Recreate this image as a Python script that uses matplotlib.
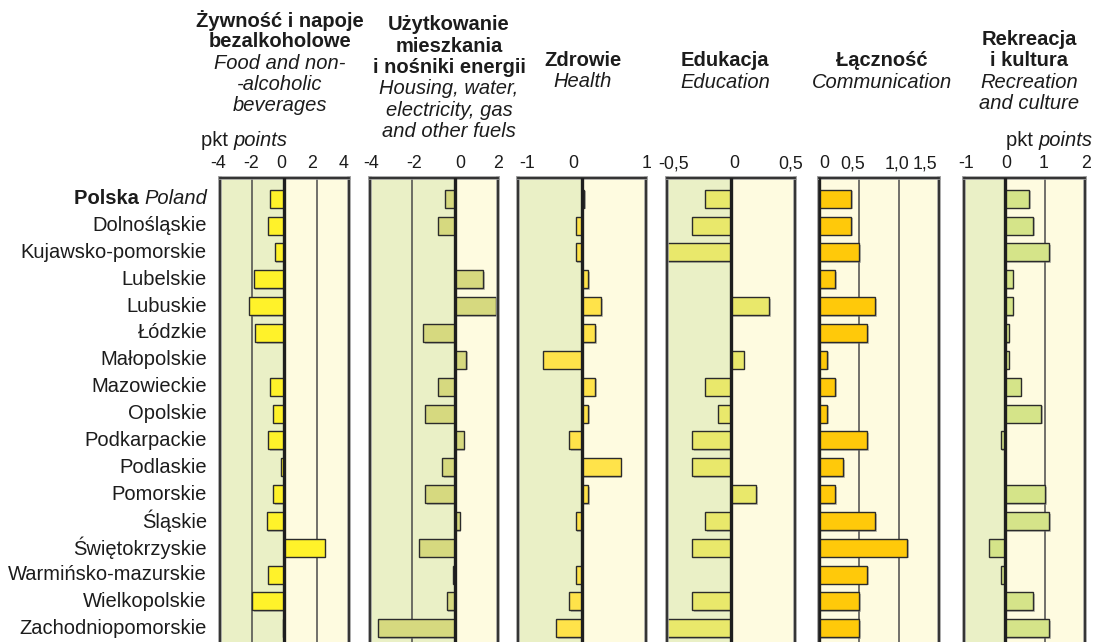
"""
Regional differences in household expenditure structure vs. Poland,
six expenditure groups, points.
"""

import matplotlib
matplotlib.use('Agg')
import matplotlib.pyplot as plt
import matplotlib.patheffects as pe

plt.rcParams['font.family'] = ['Liberation Sans', 'DejaVu Sans']

REGIONS = [
    'Polska', 'Dolnośląskie', 'Kujawsko-pomorskie', 'Lubelskie', 'Lubuskie',
    'Łódzkie', 'Małopolskie', 'Mazowieckie', 'Opolskie', 'Podkarpackie',
    'Podlaskie', 'Pomorskie', 'Śląskie', 'Świętokrzyskie',
    'Warmińsko-mazurskie', 'Wielkopolskie', 'Zachodniopomorskie',
]

food = [-0.9, -1.0, -0.6, -1.9, -2.2, -1.8, 0.0, -0.9, -0.7, -1.0,
        -0.2, -0.7, -1.1, 2.5, -1.0, -2.0, -0.1]
housing = [-0.5, -0.8, 0.0, 1.3, 1.9, -1.5, 0.5, -0.8, -1.4, 0.4,
           -0.6, -1.4, 0.2, -1.7, -0.1, -0.4, -3.6]
health = [0.03, -0.1, -0.1, 0.1, 0.3, 0.2, -0.6, 0.2, 0.1, -0.2,
          0.6, 0.1, -0.1, 0.0, -0.1, -0.2, -0.4]
education = [-0.2, -0.3, -0.5, 0.0, 0.3, 0.0, 0.1, -0.2, -0.1, -0.3,
             -0.3, 0.2, -0.2, -0.3, 0.0, -0.3, -0.5]
communication = [0.4, 0.4, 0.5, 0.2, 0.7, 0.6, 0.1, 0.2, 0.1, 0.6,
                 0.3, 0.2, 0.7, 1.1, 0.6, 0.5, 0.5]
recreation = [0.6, 0.7, 1.1, 0.2, 0.2, 0.1, 0.1, 0.4, 0.9, -0.1,
              0.0, 1.0, 1.1, -0.4, -0.1, 0.7, 1.1]

food_ticks = [-4, -2, 0, 2, 4]
housing_ticks = [-4, -2, 0, 2]
health_ticks = [-1, 0, 1]
education_ticks = [-0.5, 0, 0.5]
communication_ticks = [0, 0.5, 1.0, 1.5]
recreation_ticks = [-1, 0, 1, 2]

food_labels = ['-4', '-2', '0', '2', '4']
housing_labels = ['-4', '-2', '0', '2']
health_labels = ['-1', '0', '1']
education_labels = ['-0,5', '0', '0,5']
communication_labels = ['0', '0,5', '1,0', '1,5']
recreation_labels = ['-1', '0', '1', '2']

food_title = ['Żywność i napoje', 'bezalkoholowe']
food_title_en = ['Food and non-', '-alcoholic', 'beverages']
housing_title = ['Użytkowanie', 'mieszkania', 'i nośniki energii']
housing_title_en = ['Housing, water,', 'electricity, gas', 'and other fuels']
health_title = ['Zdrowie']
health_title_en = ['Health']
education_title = ['Edukacja']
education_title_en = ['Education']
communication_title = ['Łączność']
communication_title_en = ['Communication']
recreation_title = ['Rekreacja', 'i kultura']
recreation_title_en = ['Recreation', 'and culture']

W, H = 1096, 642
NEG_BG = '#eaf0c6'
POS_BG = '#fefbe0'
TXT = '#1c1c1c'
FS = 14.5

# one dict per column: data, axis, grid lines, bar colour, horizontal extent
# in pixels, small horizontal nudges for the scale labels, heading lines,
# heading centre and first heading line (pixels)
panels = [
    dict(vals=food, ticks=food_ticks, labels=food_labels, nudge=[-2, -1, -3, -4, -5],
         grid=[-2, 2], color='#fff22a', x0=220, x1=348.7,
         title=food_title, title_en=food_title_en, tx=280, ty=20.5),
    dict(vals=housing, ticks=housing_ticks, labels=housing_labels, nudge=[1, 2, 5, 0],
         grid=[-2], color='#d6d97f', x0=369.7, x1=498,
         title=housing_title, title_en=housing_title_en, tx=449, ty=25),
    dict(vals=health, ticks=health_ticks, labels=health_labels, nudge=[9, -9, 0],
         grid=[], color='#ffe34a', x0=517.7, x1=646.3,
         title=health_title, title_en=health_title_en, tx=583, ty=60.5),
    dict(vals=education, ticks=education_ticks, labels=education_labels, nudge=[7, 4, -4],
         grid=[], color='#e9e86b', x0=666.7, x1=794.7,
         title=education_title, title_en=education_title_en, tx=725, ty=61),
    dict(vals=communication, ticks=communication_ticks, labels=communication_labels,
         nudge=[5, -6, -2, -14],
         grid=[0.5, 1.0], color='#ffc90a', x0=819, x1=939.3,
         title=communication_title, title_en=communication_title_en, tx=882, ty=61),
    dict(vals=recreation, ticks=recreation_ticks, labels=recreation_labels, nudge=[2, 2, -1, 1],
         grid=[1], color='#d5e489', x0=964.3, x1=1085.3,
         title=recreation_title, title_en=recreation_title_en, tx=1029, ty=39.5),
]

fig = plt.figure(figsize=(W / 100, H / 100), dpi=100)

AX_TOP = 178.3
LINE = 21.3
rows = list(range(len(REGIONS)))

shadow = [pe.SimplePatchShadow(offset=(1.2, -1.2), shadow_rgbFace='#777777', alpha=0.45),
          pe.Normal()]

axes = []
for p in panels:
    ax = fig.add_axes([p['x0'] / W, 0, (p['x1'] - p['x0']) / W, (H - AX_TOP) / H])
    lo, hi = p['ticks'][0], p['ticks'][-1]
    ax.set_xlim(lo, hi)
    ax.set_ylim(16.51, -0.76)
    if lo < 0:
        ax.axvspan(lo, 0, color=NEG_BG, zorder=0)
    ax.axvspan(0, hi, color=POS_BG, zorder=0)
    for g in p['grid']:
        ax.axvline(g, color='#4a4a4a', lw=1.1, zorder=1)
    ax.barh(rows, p['vals'], height=0.67, color=p['color'], edgecolor='#2b2b2b',
            linewidth=1.0, zorder=2, path_effects=shadow)
    ax.axvline(0, color='#1e1e1e', lw=2.4, zorder=3)

    # scale along the top edge
    ax.set_xticks([])
    ax.set_yticks([])
    for tv, tl, dx in zip(p['ticks'], p['labels'], p['nudge']):
        ax.annotate(tl, xy=(tv, 1), xycoords=('data', 'axes fraction'),
                    xytext=(dx, 6), textcoords='offset pixels',
                    ha='center', va='bottom', fontsize=12.8, color=TXT,
                    annotation_clip=False)

    ax.spines['bottom'].set_visible(False)
    for s in ax.spines.values():
        s.set_color('#2b2b2b')
        s.set_linewidth(1.3)
        s.set_path_effects([pe.withStroke(linewidth=2.6, foreground='#9a9a9a')])

    # column heading: Polish in bold, English in italic
    y = p['ty']
    for line in p['title']:
        fig.text(p['tx'] / W, 1 - y / H, line, ha='center', va='center',
                 fontsize=FS, fontweight='bold', color=TXT)
        y += LINE
    for line in p['title_en']:
        fig.text(p['tx'] / W, 1 - y / H, line, ha='center', va='center',
                 fontsize=FS, fontstyle='italic', color=TXT)
        y += LINE
    axes.append(ax)

# region names to the left of the first column
ax0 = axes[0]
for r, name in zip(rows, REGIONS):
    if r == 0:
        t = ax0.annotate('Poland', xy=(0, r), xycoords=('axes fraction', 'data'),
                         xytext=(-13, 0), textcoords='offset pixels',
                         ha='right', va='center', fontsize=FS,
                         fontstyle='italic', color=TXT)
        ax0.annotate('Polska ', xy=(0, 0), xycoords=t, ha='right', va='bottom',
                     fontsize=FS, fontweight='bold', color=TXT)
    else:
        ax0.annotate(name, xy=(0, r), xycoords=('axes fraction', 'data'),
                     xytext=(-13, 0), textcoords='offset pixels',
                     ha='right', va='center', fontsize=FS, color=TXT)

# unit labels above the first and last columns
t = fig.text(201 / W, 1 - 140 / H, 'pkt ', ha='left', va='center',
             fontsize=FS, color=TXT)
ax0.annotate('points', xy=(1, 0), xycoords=t, ha='left', va='bottom',
             fontsize=FS, fontstyle='italic', color=TXT)
t2 = fig.text(1093 / W, 1 - 141 / H, 'points', ha='right', va='center',
              fontsize=FS, fontstyle='italic', color=TXT)
axes[-1].annotate('pkt ', xy=(0, 0), xycoords=t2, ha='right', va='bottom',
                  fontsize=FS, color=TXT)

fig.savefig('out.png', dpi=100)
